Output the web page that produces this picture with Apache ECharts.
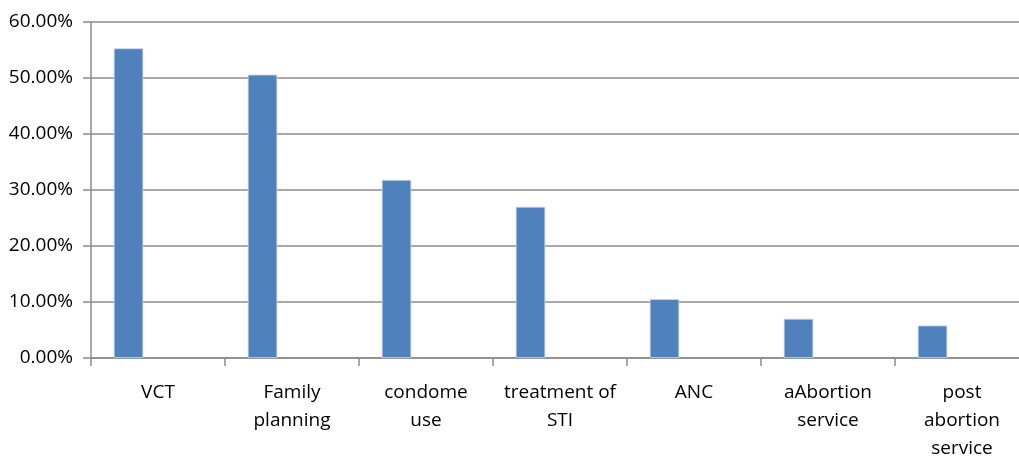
<!DOCTYPE html>
<html>
<head>
<meta charset="utf-8">
<script src="https://cdn.jsdelivr.net/npm/echarts@6/dist/echarts.min.js"></script>
<style>html,body{margin:0;padding:0;background:#fff}#c{width:1019px;height:456px}</style>
</head>
<body>
<div id="c"></div>
<script>
var categories = ["VCT", "Family\nplanning", "condome\nuse", "treatment of\nSTI", "ANC", "aAbortion\nservice", "post\nabortion\nservice"];
var values = [55.3, 50.6, 31.8, 27.0, 10.5, 7.0, 5.8];
var yTicks = [0, 10, 20, 30, 40, 50, 60];

var chart = echarts.init(document.getElementById('c'), null, {renderer: 'canvas'});
var font = '"Open Sans", sans-serif';
var grey = '#8c8c8c';
chart.setOption({
  animation: false,
  grid: {left: 91, right: -10, top: 22, bottom: 98, containLabel: false, outerBoundsMode: 'none'},
  xAxis: {
    type: 'category',
    data: categories,
    axisLine: {lineStyle: {color: grey, width: 1.5}},
    axisTick: {show: true, length: 8, lineStyle: {color: grey, width: 1.5}},
    axisLabel: {color: '#000', fontSize: 19, fontFamily: font, margin: 21, lineHeight: 28, interval: 0}
  },
  yAxis: {
    type: 'value',
    min: yTicks[0], max: yTicks[yTicks.length - 1], interval: 10,
    axisLine: {show: true, lineStyle: {color: grey, width: 1.5}},
    axisTick: {show: true, length: 8, lineStyle: {color: grey, width: 1.5}},
    splitLine: {lineStyle: {color: grey, width: 1.5}},
    axisLabel: {color: '#000', fontSize: 19, fontFamily: font, margin: 18,
      formatter: function (v) { return v.toFixed(2) + '%'; }}
  },
  series: [
    {type: 'bar', data: values, barGap: '0%', barCategoryGap: '34%',
     itemStyle: {color: '#4f81bd', borderColor: '#c6d5ea', borderWidth: 0.8}},
    {type: 'bar', data: values.map(function(){return null;})},
    {type: 'bar', data: values.map(function(){return null;})}
  ]
});
</script>
</body>
</html>
